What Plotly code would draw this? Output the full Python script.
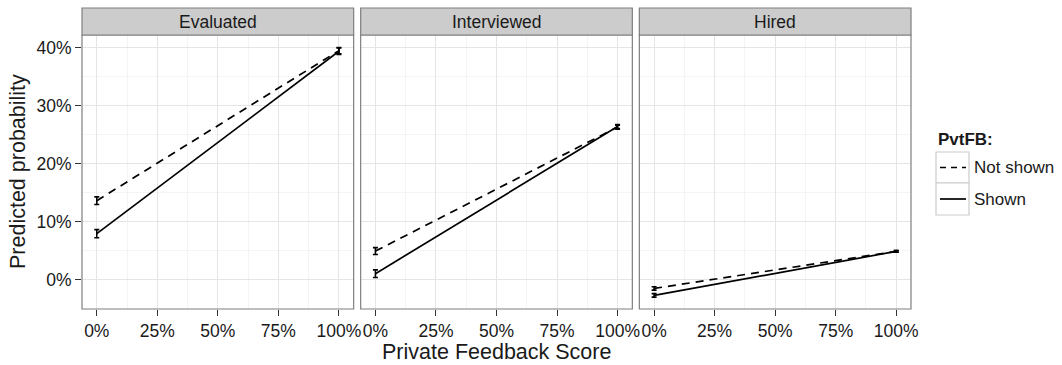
import plotly.graph_objects as go

# Predicted probabilities (%) at private feedback score 0% and 100%
stages = ["Evaluated", "Interviewed", "Hired"]
score = [0, 100]

not_shown_evaluated = [13.6, 39.5]
not_shown_interviewed = [4.9, 26.3]
not_shown_hired = [-1.55, 4.85]

shown_evaluated = [7.9, 39.4]
shown_interviewed = [1.0, 26.4]
shown_hired = [-2.75, 4.85]

# half-widths of the confidence intervals (%)
not_shown_err_evaluated = [0.65, 0.55]
not_shown_err_interviewed = [0.6, 0.35]
not_shown_err_hired = [0.3, 0.15]

shown_err_evaluated = [0.7, 0.55]
shown_err_interviewed = [0.65, 0.35]
shown_err_hired = [0.3, 0.15]

x_tick_vals = [0, 25, 50, 75, 100]
x_tick_text = ["0%", "25%", "50%", "75%", "100%"]
y_tick_vals = [0, 10, 20, 30, 40]
y_tick_text = ["0%", "10%", "20%", "30%", "40%"]

not_shown = [not_shown_evaluated, not_shown_interviewed, not_shown_hired]
shown = [shown_evaluated, shown_interviewed, shown_hired]
not_shown_err = [not_shown_err_evaluated, not_shown_err_interviewed, not_shown_err_hired]
shown_err = [shown_err_evaluated, shown_err_interviewed, shown_err_hired]

W, H = 1062, 365
L, R, T, B = 82, 911, 8, 309          # plotting region in pixels
PW, PH = R - L, B - T
STRIP_H = 27

def px_x(px):
    return (px - L) / PW

def px_y(py):
    return (B - py) / PH

FONT = "Liberation Sans, Arial, sans-serif"
TXT = "#1a1a1a"
BORDER = "#7f7f7f"
STRIP_FILL = "#cccccc"
DASH = "8px,6px"

gap = 7 / PW
pw = (1 - 2 * gap) / 3
domains = [[i * (pw + gap), i * (pw + gap) + pw] for i in range(3)]
y_top = 1 - STRIP_H / PH

fig = go.Figure()

for i, stage in enumerate(stages):
    xa = "x" if i == 0 else f"x{i + 1}"
    ya = "y" if i == 0 else f"y{i + 1}"
    for vals, errs, dash in [(not_shown[i], not_shown_err[i], DASH),
                             (shown[i], shown_err[i], "solid")]:
        fig.add_trace(go.Scatter(
            x=score, y=vals, mode="lines",
            line=dict(color="black", width=1.7, dash=dash),
            error_y=dict(type="data", array=errs, visible=True,
                         color="black", thickness=1.6, width=2.5),
            xaxis=xa, yaxis=ya, showlegend=False, hoverinfo="skip",
        ))

axis_common = dict(
    showline=False, zeroline=False, mirror=False,
    gridcolor="#e5e5e5", gridwidth=1.2,
    ticks="outside", ticklen=6, tickwidth=1, tickcolor="#333333",
    tickfont=dict(family=FONT, size=17.5, color=TXT),
)

for i in range(3):
    sfx = "" if i == 0 else str(i + 1)
    fig.layout["xaxis" + sfx] = dict(
        axis_common, domain=domains[i], anchor="y" + sfx,
        range=[-6.1, 106.1], tickmode="array", tickvals=x_tick_vals, ticktext=x_tick_text,
        minor=dict(showgrid=True, gridcolor="#f4f4f4", tickvals=[12.5, 37.5, 62.5, 87.5], ticks=""),
    )
    fig.layout["yaxis" + sfx] = dict(
        axis_common, domain=[0, y_top], anchor="x" + sfx,
        range=[-5.1, 42.2], tickmode="array", tickvals=y_tick_vals, ticktext=y_tick_text,
        showticklabels=(i == 0), ticks="outside" if i == 0 else "",
        minor=dict(showgrid=True, gridcolor="#f4f4f4", tickvals=[-5, 5, 15, 25, 35], ticks=""),
    )

shapes = []
annotations = []
for i, stage in enumerate(stages):
    x0, x1 = domains[i]
    # panel border
    shapes.append(dict(type="rect", xref="paper", yref="paper", x0=x0, x1=x1, y0=0, y1=y_top,
                       line=dict(color=BORDER, width=1.2), fillcolor="rgba(0,0,0,0)", layer="above"))
    # facet strip
    shapes.append(dict(type="rect", xref="paper", yref="paper", x0=x0, x1=x1, y0=y_top, y1=1,
                       line=dict(color=BORDER, width=1.2), fillcolor=STRIP_FILL, layer="above"))
    annotations.append(dict(text=stage, xref="paper", yref="paper", x=(x0 + x1) / 2,
                            y=(1 + y_top) / 2, showarrow=False, xanchor="center", yanchor="middle",
                            font=dict(family=FONT, size=17.5, color=TXT)))

# axis titles
annotations.append(dict(text="Private Feedback Score", xref="paper", yref="paper",
                        x=0.5, y=px_y(351.5), showarrow=False, xanchor="center", yanchor="middle",
                        font=dict(family=FONT, size=21.5, color=TXT)))
annotations.append(dict(text="Predicted probability", xref="paper", yref="paper",
                        x=px_x(18), y=px_y(172), showarrow=False, xanchor="center", yanchor="middle",
                        textangle=-90, font=dict(family=FONT, size=21.5, color=TXT)))

# legend
annotations.append(dict(text="<b>PvtFB:</b>", xref="paper", yref="paper",
                        x=px_x(936), y=px_y(139), showarrow=False, xanchor="left", yanchor="middle",
                        font=dict(family=FONT, size=17, color=TXT)))
legend_items = [("Not shown", "6px,5px", 152, 183), ("Shown", "solid", 183, 215)]
for label, dash, top, bot in legend_items:
    shapes.append(dict(type="rect", xref="paper", yref="paper",
                       x0=px_x(936), x1=px_x(969), y0=px_y(bot), y1=px_y(top),
                       line=dict(color="#cccccc", width=1.2), fillcolor="white"))
    mid = (top + bot) / 2
    shapes.append(dict(type="line", xref="paper", yref="paper",
                       x0=px_x(940), x1=px_x(966), y0=px_y(mid), y1=px_y(mid),
                       line=dict(color="black", width=1.7, dash=dash)))
    annotations.append(dict(text=label, xref="paper", yref="paper",
                            x=px_x(972), y=px_y(mid), showarrow=False, xanchor="left", yanchor="middle",
                            font=dict(family=FONT, size=17, color=TXT)))

fig.update_layout(
    width=W, height=H,
    margin=dict(l=L, r=W - R, t=T, b=H - B),
    paper_bgcolor="white", plot_bgcolor="white",
    shapes=shapes, annotations=annotations,
    showlegend=False,
)

fig.write_html("out.html")
